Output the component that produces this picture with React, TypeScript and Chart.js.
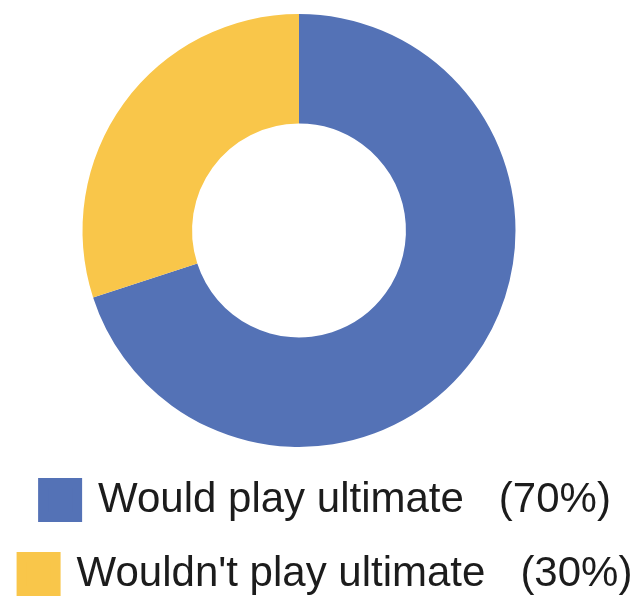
import React, { useEffect, useRef } from "react";
import { Chart, registerables } from "chart.js";

Chart.register(...registerables);

const CATEGORIES = ["Would play ultimate", "Wouldn't play ultimate"];
const VALUES = [70, 30];
const COLORS = ["#5472b6", "#f9c64a"];
const TEXT_COLOR = "#1c1c1c";
const DONUT_SHIFT = 28;

const shiftPlugin = {
  id: "donutShift",
  afterLayout(chart: any) {
    const a = chart.chartArea;
    a.left -= DONUT_SHIFT;
    a.right -= DONUT_SHIFT;
  },
};

export default function App() {
  const ref = useRef<HTMLCanvasElement | null>(null);

  useEffect(() => {
    if (!ref.current) return;
    const labels = CATEGORIES.map((c, i) => `${c}   (${VALUES[i]}%)`);
    const chart = new Chart(ref.current, {
      type: "doughnut",
      data: {
        labels,
        datasets: [
          {
            data: VALUES,
            backgroundColor: COLORS,
            borderWidth: 0,
            hoverOffset: 0,
            offset: 0,
          },
        ],
      },
      options: {
        animation: false,
        responsive: true,
        maintainAspectRatio: false,
        cutout: "49.4%",
        layout: { padding: { top: 14, left: 0, right: 0, bottom: 0 } },
        plugins: {
          tooltip: { enabled: false },
          legend: {
            display: true,
            position: "bottom",
            align: "center",
            labels: {
              boxWidth: 34,
              boxHeight: 34,
              padding: 32,
              color: TEXT_COLOR,
              font: { family: "'Liberation Sans', Arial, sans-serif", size: 42 },
              generateLabels: (c: any) =>
                (c.data.labels as string[]).map((t, i) => ({
                  text: t,
                  fillStyle: COLORS[i],
                  strokeStyle: COLORS[i],
                  lineWidth: 10,
                  lineJoin: "miter",
                  hidden: false,
                  index: i,
                  fontColor: TEXT_COLOR,
                })),
            },
          },
        },
      },
      plugins: [shiftPlugin],
    });
    return () => chart.destroy();
  }, []);

  return (
    <div
      style={{
        position: "fixed",
        left: 0,
        top: 0,
        width: 654,
        height: 605,
        overflow: "hidden",
        background: "#fff",
      }}
    >
      <canvas ref={ref} />
    </div>
  );
}
